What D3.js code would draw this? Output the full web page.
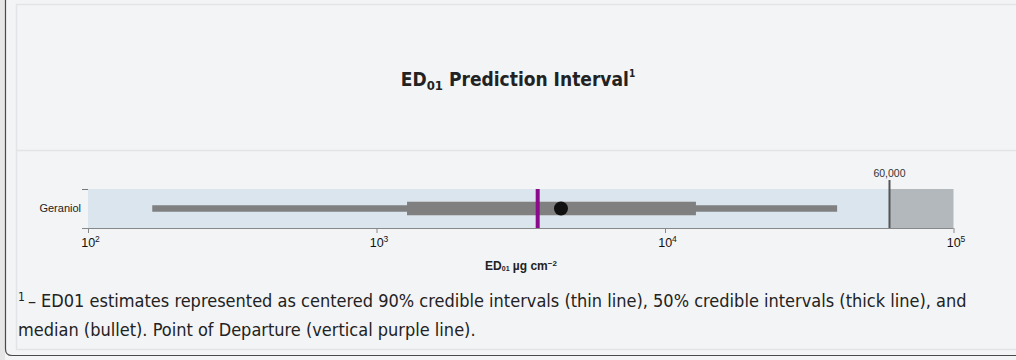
<!DOCTYPE html>
<html>
<head>
<meta charset="utf-8">
<script src="https://cdn.jsdelivr.net/npm/d3@7"></script>
<style>
  html, body { margin: 0; padding: 0; background: #f3f4f6; }
  svg { display: block; }
</style>
</head>
<body>
<svg id="chart" width="1016" height="360"></svg>
<script>
// ED01 interval data for one chemical (µg/cm²)
const chemicals = ["Geraniol"];
const ci90Low = [167];
const ci90High = [39500];
const ci50Low = [1276];
const ci50High = [12800];
const medians = [4360];
const pointOfDeparture = [3620];
const limitValue = 60000;
const xTickValues = [100, 1000, 10000, 100000];
const xTickBase = ["10", "10", "10", "10"];
const xTickExponents = ["2", "3", "4", "5"];
const footnoteLines = [
  "– ED01 estimates represented as centered 90% credible intervals (thin line), 50% credible intervals (thick line), and",
  "median (bullet). Point of Departure (vertical purple line)."
];

const svg = d3.select("#chart");
const W = 1016, H = 360;
const narrow = "'Liberation Sans Narrow', 'DejaVu Sans Condensed', 'Noto Sans', sans-serif";
const arial = "'Liberation Sans', Arial, sans-serif";

// card frame
svg.append("rect").attr("x", 0).attr("y", 0).attr("width", 5).attr("height", H).attr("fill", "#e6e6e6");
svg.append("path")
  .attr("d", `M5.5,0 V349 Q5.5,355.5 12,355.5 H${W}`)
  .attr("fill", "none").attr("stroke", "#4a4a4a").attr("stroke-width", 1.2);
svg.append("path")
  .attr("d", `M${W},4.5 H16.5 V349.5 H${W}`)
  .attr("fill", "none").attr("stroke", "#e2e4e7").attr("stroke-width", 1.5);
svg.append("line").attr("x1", 17).attr("x2", W).attr("y1", 150.5).attr("y2", 150.5)
  .attr("stroke", "#e2e4e7").attr("stroke-width", 1.5);

// title
const title = svg.append("text").attr("x", 518).attr("y", 86)
  .attr("text-anchor", "middle").attr("font-family", narrow)
  .attr("font-size", 19).attr("font-weight", 600).attr("fill", "#222");
title.append("tspan").text("ED");
title.append("tspan").attr("font-size", 13).attr("dy", 4).text("01");
title.append("tspan").attr("dy", -4).text(" Prediction Interval");
title.append("tspan").attr("font-size", 10).attr("dy", -9).text("1");

// chart area
const x = d3.scaleLog().domain([100, 100000]).range([88, 953.5]);
const y = d3.scaleBand().domain(chemicals).range([189, 228]);
const mid = c => y(c) + y.bandwidth() / 2;

const g = svg.append("g");

// y axis
const yAxis = g.append("g").attr("transform", `translate(${x.range()[0]},0)`)
  .call(d3.axisLeft(y).tickSize(0).tickPadding(7));
yAxis.select(".domain").attr("stroke", "#777").attr("d", `M-6,${y.range()[0] + 0.5}H0`);
yAxis.selectAll("text").attr("font-family", arial).attr("font-size", 11).attr("fill", "#222");

// band background and region beyond the limit
g.selectAll("rect.band").data(chemicals).join("rect").attr("class", "band")
  .attr("x", x(100)).attr("y", d => y(d))
  .attr("width", x(limitValue) - x(100)).attr("height", y.bandwidth())
  .attr("fill", "#dae5ed");
g.append("rect").attr("x", x(limitValue)).attr("y", y.range()[0])
  .attr("width", x(100000) - x(limitValue)).attr("height", y.range()[1] - y.range()[0])
  .attr("fill", "#b3b8bd");

// x axis with power-of-ten labels
const xAxis = g.append("g").attr("transform", `translate(0,${y.range()[1]})`)
  .call(d3.axisBottom(x).tickValues(xTickValues).tickFormat(() => "").tickSizeOuter(0).tickSize(5).tickPadding(2));
xAxis.select(".domain").attr("stroke", "#888").attr("d", `M82,0.5H${x(100000)}`);
xAxis.selectAll(".tick line").attr("stroke", "#888");
xAxis.selectAll(".tick text").each(function (d, i) {
  const t = d3.select(this).attr("font-family", arial).attr("font-size", 12.5)
    .attr("fill", "#111").attr("y", 19).attr("dy", null).attr("dx", 2);
  t.append("tspan").text(xTickBase[i]);
  t.append("tspan").attr("font-size", 8.5).attr("dy", -5).text(xTickExponents[i]);
});

// axis title
const xt = svg.append("text").attr("x", 521).attr("y", 270).attr("text-anchor", "middle")
  .attr("font-family", arial).attr("font-size", 12).attr("font-weight", "bold").attr("fill", "#222");
xt.append("tspan").text("ED");
xt.append("tspan").attr("font-size", 7).attr("dy", 1).text("01");
xt.append("tspan").attr("dy", -1).text(" µg cm");
xt.append("tspan").attr("font-size", 8).attr("dy", -4).text("−2");

// limit marker
g.append("line").attr("x1", x(limitValue)).attr("x2", x(limitValue))
  .attr("y1", 180).attr("y2", y.range()[1]).attr("stroke", "#555").attr("stroke-width", 2);
g.append("text").attr("x", x(limitValue)).attr("y", 177).attr("text-anchor", "middle")
  .attr("font-family", arial).attr("font-size", 10.5).attr("fill", "#333")
  .text(d3.format(",")(limitValue));

// intervals
g.selectAll("line.ci90").data(chemicals).join("line").attr("class", "ci90")
  .attr("x1", (d, i) => x(ci90Low[i])).attr("x2", (d, i) => x(ci90High[i]))
  .attr("y1", mid).attr("y2", mid).attr("stroke", "#808080").attr("stroke-width", 6.5);
g.selectAll("line.ci50").data(chemicals).join("line").attr("class", "ci50")
  .attr("x1", (d, i) => x(ci50Low[i])).attr("x2", (d, i) => x(ci50High[i]))
  .attr("y1", mid).attr("y2", mid).attr("stroke", "#808080").attr("stroke-width", 13.5);
g.selectAll("line.pod").data(chemicals).join("line").attr("class", "pod")
  .attr("x1", (d, i) => x(pointOfDeparture[i])).attr("x2", (d, i) => x(pointOfDeparture[i]))
  .attr("y1", d => y(d)).attr("y2", d => y(d) + y.bandwidth())
  .attr("stroke", "#8b0a8b").attr("stroke-width", 4);
g.selectAll("circle.med").data(chemicals).join("circle").attr("class", "med")
  .attr("cx", (d, i) => x(medians[i])).attr("cy", mid).attr("r", 7).attr("fill", "#111");

// footnote
const fn = svg.append("g").attr("font-family", narrow).attr("font-size", 18).attr("fill", "#222");
const l1 = fn.append("text").attr("x", 18).attr("y", 307);
l1.append("tspan").attr("font-size", 12).attr("dy", -6).text("1");
l1.append("tspan").attr("dy", 6).attr("dx", 3).text(footnoteLines[0]);
fn.append("text").attr("x", 18).attr("y", 336).text(footnoteLines[1]);
</script>
</body>
</html>
